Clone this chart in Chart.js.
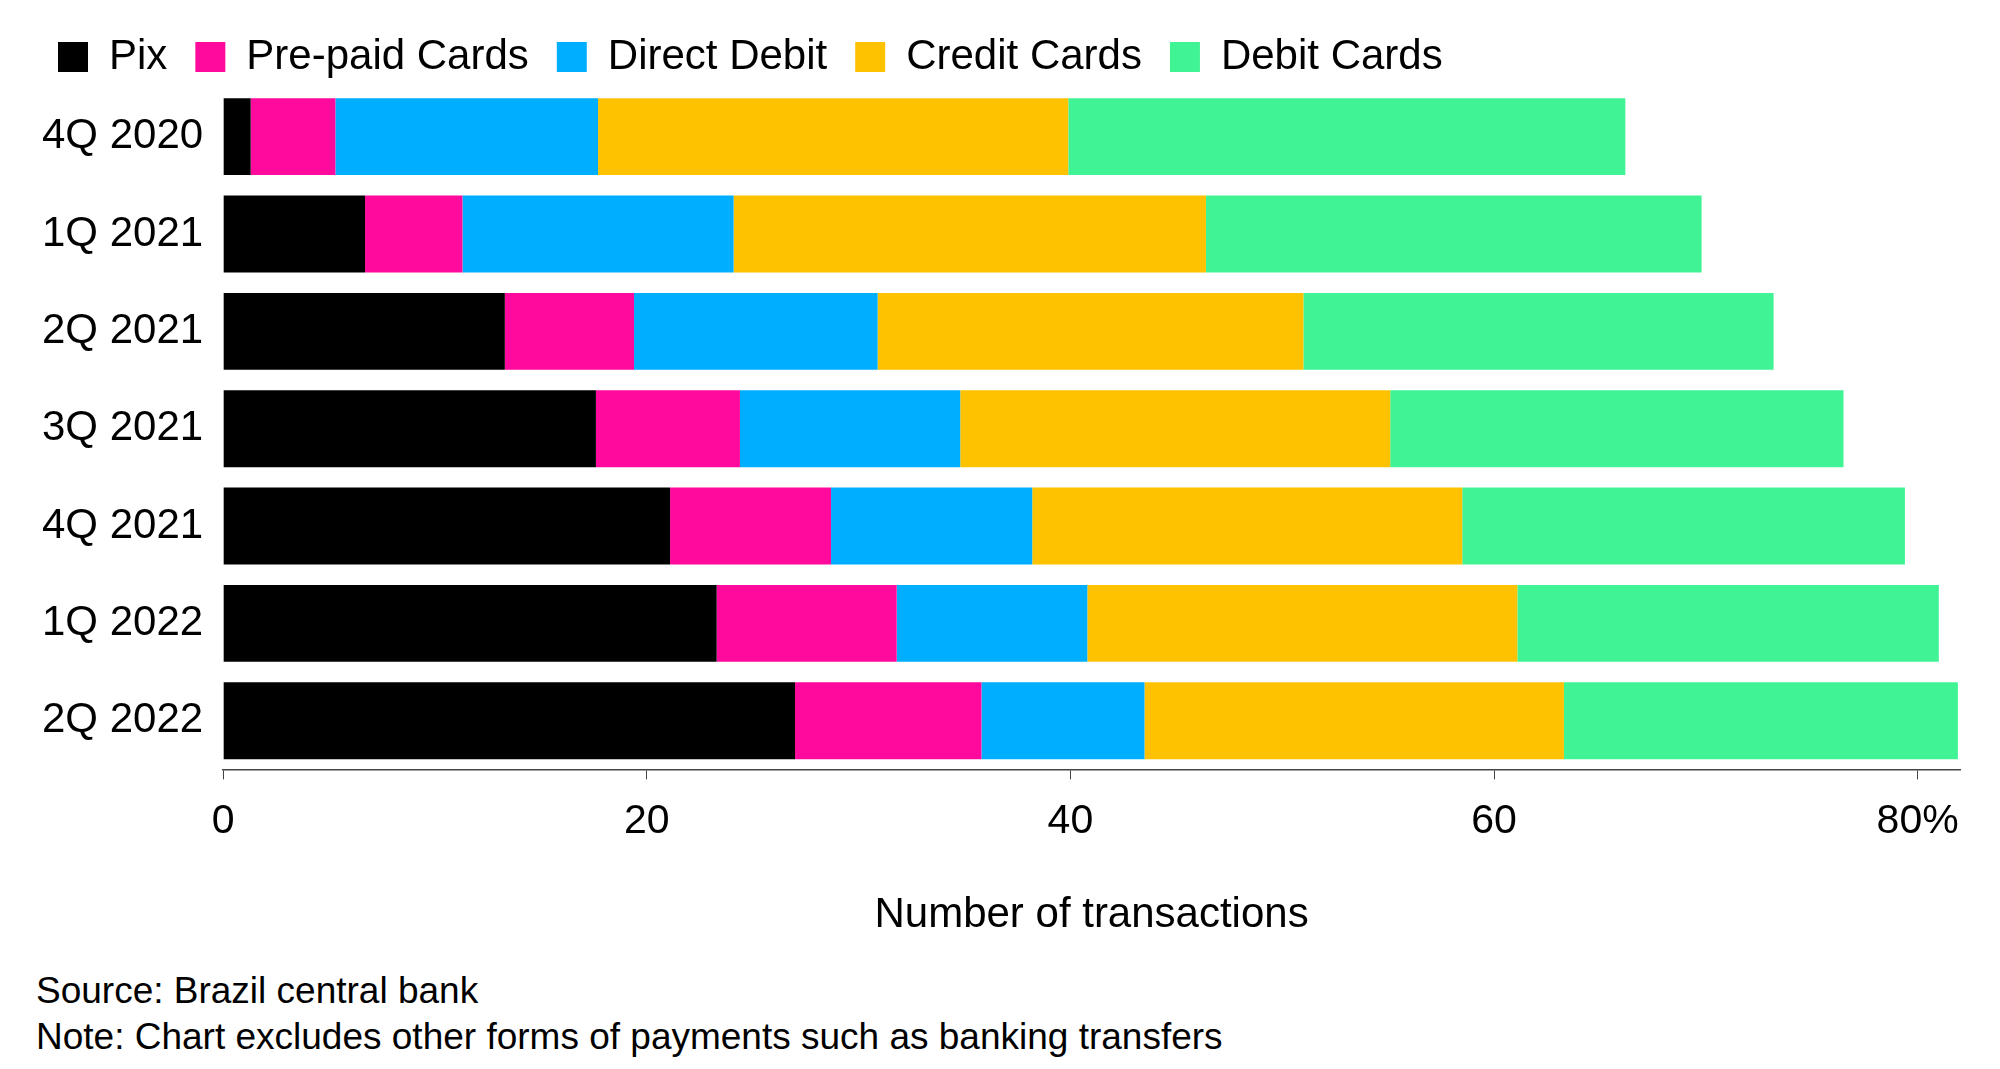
<!DOCTYPE html>
<html>
<head>
<meta charset="utf-8">
<script src="https://cdn.jsdelivr.net/npm/chart.js@4"></script>
<style>
  body { margin: 0; background: #fff; font-family: "Liberation Sans", Arial, sans-serif; }
  #wrap { position: relative; width: 2000px; height: 1069px; }
  #chartBox { position: absolute; left: 0; top: 0; width: 2000px; height: 945px; }
  #foot { position: absolute; left: 36px; top: 968px; font-size: 37px; line-height: 46px; color: #000; }
</style>
</head>
<body>
<div id="wrap">
  <div id="chartBox"><canvas id="c"></canvas></div>
  <div id="foot">Source: Brazil central bank<br>Note: Chart excludes other forms of payments such as banking transfers</div>
</div>
<script>
const quarters = ['4Q 2020', '1Q 2021', '2Q 2021', '3Q 2021', '4Q 2021', '1Q 2022', '2Q 2022'];
const pix = [1.3, 6.7, 13.3, 17.6, 21.1, 23.3, 27.0];
const prepaid = [4.0, 4.6, 6.1, 6.8, 7.6, 8.5, 8.8];
const directDebit = [12.4, 12.8, 11.5, 10.4, 9.5, 9.0, 7.7];
const creditCards = [22.2, 22.3, 20.1, 20.3, 20.3, 20.3, 19.8];
const debitCards = [26.3, 23.4, 22.2, 21.4, 20.9, 19.9, 18.6];
const xTicks = [0, 20, 40, 60, 80];

const font = "'Liberation Sans', Arial, sans-serif";
const mk = (label, data, color) => ({
  label, data, backgroundColor: color, borderWidth: 0,
  categoryPercentage: 1, barPercentage: 0.79
});

new Chart(document.getElementById('c'), {
  type: 'bar',
  data: {
    labels: quarters,
    datasets: [
      mk('Pix', pix, '#000000'),
      mk('Pre-paid Cards', prepaid, '#ff0a9c'),
      mk('Direct Debit', directDebit, '#00aeff'),
      mk('Credit Cards', creditCards, '#ffc200'),
      mk('Debit Cards', debitCards, '#40f394')
    ]
  },
  options: {
    indexAxis: 'y',
    responsive: true,
    maintainAspectRatio: false,
    animation: false,
    layout: { padding: { left: 30, right: 40, top: 8, bottom: 0 } },
    plugins: {
      tooltip: { enabled: false },
      legend: {
        position: 'top',
        align: 'start',
        labels: {
          color: '#000',
          font: { family: font, size: 42 },
          boxWidth: 30, boxHeight: 30, padding: 28
        }
      }
    },
    scales: {
      x: {
        stacked: true,
        min: 0, max: 82,
        afterBuildTicks: axis => { axis.ticks = xTicks.map(v => ({ value: v })); },
        ticks: {
          color: '#000',
          font: { family: font, size: 41 },
          padding: 18,
          callback: v => v === 80 ? '80%' : String(v)
        },
        grid: { display: true, drawOnChartArea: false, drawTicks: true, tickLength: 10, color: '#444' },
        border: { display: true, color: '#444', width: 1.5 },
        title: {
          display: true, text: 'Number of transactions', color: '#000',
          font: { family: font, size: 42 }, padding: { top: 26 }
        }
      },
      y: {
        stacked: true,
        ticks: { color: '#000', font: { family: font, size: 42 }, padding: 12 },
        grid: { display: false },
        border: { display: false }
      }
    }
  }
});
</script>
</body>
</html>
